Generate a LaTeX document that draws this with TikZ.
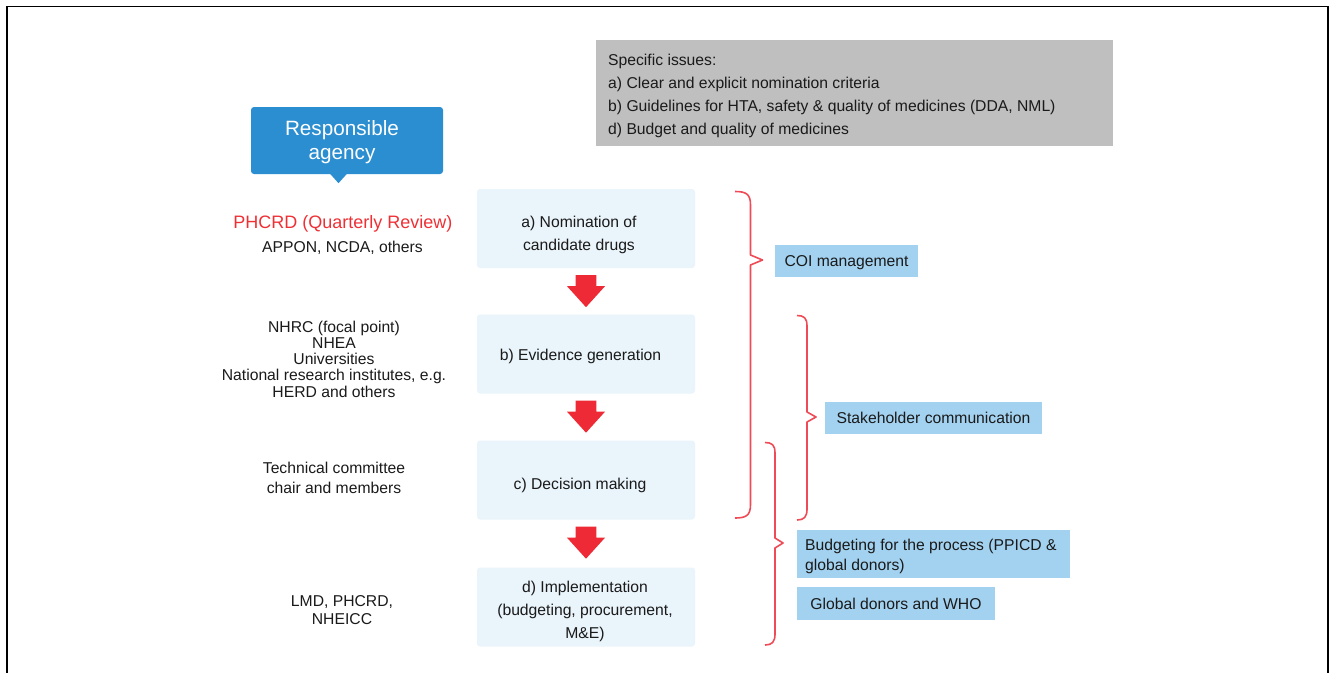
\documentclass[tikz,border=0pt]{standalone}
\usepackage{fontspec}
\setmainfont{Liberation Sans}
\usetikzlibrary{calc}
\definecolor{calloutblue}{HTML}{2B8ED0}
\definecolor{boxfill}{HTML}{EAF4FB}
\definecolor{labelblue}{HTML}{A3D2F1}
\definecolor{issuegrey}{HTML}{BFBFBF}
\definecolor{arrowred}{HTML}{EE2A36}
\definecolor{bracered}{HTML}{EE4B56}
\definecolor{agencyred}{HTML}{EE3035}
\definecolor{txt}{HTML}{1A1A1A}
\tikzset{
  basefont/.style={font=\fontsize{15.7}{23.3}\selectfont, text=txt},
  flowbox/.style={fill=boxfill, rounded corners=3pt, minimum width=218pt, minimum height=79pt, inner sep=0pt},
  flowtext/.style={basefont, inner sep=0pt, align=center},
  oneline/.style={text height=11.2pt, text depth=0pt},
  labelbox/.style={basefont, fill=labelblue, inner sep=0pt, align=center},
  agency/.style={basefont, inner sep=0pt, align=center},
  brace/.style={draw=bracered, line width=1.6pt, line join=round},
  blockarrow/.style={fill=arrowred},
}
\begin{document}
\begin{tikzpicture}[x=1pt,y=-1pt]
\useasboundingbox (0,0) rectangle (1329,672);
% frame
\draw[line width=1.7pt, black] (6.8,680) -- (6.8,6.5) -- (1328.3,6.5) -- (1328.3,680);

% specific issues box
\node[fill=issuegrey, minimum width=517pt, minimum height=106pt, inner sep=0pt] (issuesbox) at (854.5,93) {};
\node[basefont, anchor=west, inner sep=0pt, align=left, font=\fontsize{15.7}{23}\selectfont] (issues) at (608,95.5)
  {Specific issues:\\a) Clear and explicit nomination criteria\\b) Guidelines for HTA, safety \& quality of medicines (DDA, NML)\\d) Budget and quality of medicines};

% responsible agency callout
\node[fill=calloutblue, rounded corners=3pt, minimum width=192pt, minimum height=67pt, inner sep=0pt] (resp) at (347,140.5) {};
\fill[calloutblue] ($(resp.south)+(-17,-0.5)$) -- ($(resp.south)+(0,-0.5)$) -- ($(resp.south)+(-8.5,9)$) -- cycle;
\node[inner sep=0pt, align=center, text=white, font=\fontsize{20.7}{24}\selectfont] (resptext) at (342,142.5) {Responsible\\agency};

% flow boxes
\node[flowbox] (boxa) at (586,228.5) {};
\node[flowbox] (boxb) at (586,354) {};
\node[flowbox] (boxc) at (586,480) {};
\node[flowbox] (boxd) at (586,607) {};
\node[flowtext] (texta) at (579,235) {a) Nomination of\\candidate drugs};
\node[flowtext, oneline] (textb) at (580.5,354.5) {b) Evidence generation};
\node[flowtext, oneline] (textc) at (580,484) {c) Decision making};
\node[flowtext] (textd) at (585,611.5) {d) Implementation\\(budgeting, procurement,\\M\&E)};

% block arrows between boxes
\foreach \src in {boxa,boxb,boxc}{
  \fill[blockarrow] ($(\src.south)+(-10.4,7)$) -- ($(\src.south)+(10.4,7)$) -- ($(\src.south)+(10.4,18)$)
    -- ($(\src.south)+(19,18)$) -- ($(\src.south)+(0,39)$) -- ($(\src.south)+(-19,18)$)
    -- ($(\src.south)+(-10.4,18)$) -- cycle;
}

% responsible agencies (left column)
\node[agency, text=agencyred, font=\fontsize{18}{20}\selectfont, anchor=base] (phcrd) at (343,228) {PHCRD (Quarterly Review)};
\node[agency, anchor=base] (appon) at (342.5,252) {APPON, NCDA, others};
\node[agency, font=\fontsize{15.7}{16.3}\selectfont] (nhrc) at (334,359) {NHRC (focal point)\\NHEA\\Universities\\National research institutes, e.g.\\HERD and others};
\node[agency, font=\fontsize{15.7}{20}\selectfont] (tech) at (334,477.5) {Technical committee\\chair and members};
\node[agency, font=\fontsize{15.7}{18.5}\selectfont] (lmd) at (342,610) {LMD, PHCRD,\\NHEICC};

% braces
\draw[brace] (735,191.5) .. controls (746,191.5) and (750.5,194) .. (750.5,205) -- (750.5,255) -- (762.5,260) -- (750.5,265)
  -- (750.5,504.5) .. controls (750.5,515.5) and (746,518) .. (735,518);
\draw[brace] (797,315.5) .. controls (804,315.5) and (807,318) .. (807,326) -- (807,412) -- (816,417) -- (807,422)
  -- (807,509) .. controls (807,517) and (804,520) .. (797,520);
\draw[brace] (765,442.5) .. controls (772,442.5) and (775,445) .. (775,453) -- (775,538) -- (783,543) -- (775,548)
  -- (775,634) .. controls (775,642) and (772,645) .. (765,645);

% issue labels
\node[labelbox, oneline, minimum width=143pt, minimum height=32pt] (coi) at (846.5,261) {COI management};
\node[labelbox, oneline, minimum width=217pt, minimum height=32pt] (stake) at (933.5,417.5) {Stakeholder communication};
\node[labelbox, minimum width=273pt, minimum height=48pt, inner sep=0pt] (budgetbox) at (933.5,554) {};
\node[basefont, anchor=west, inner sep=0pt, align=left, font=\fontsize{15.7}{20}\selectfont] (budget) at (805,556.5) {Budgeting for the process (PPICD \&\\global donors)};
\node[labelbox, oneline, minimum width=198pt, minimum height=33pt] (donors) at (896,603.5) {Global donors and WHO};
\end{tikzpicture}
\end{document}
